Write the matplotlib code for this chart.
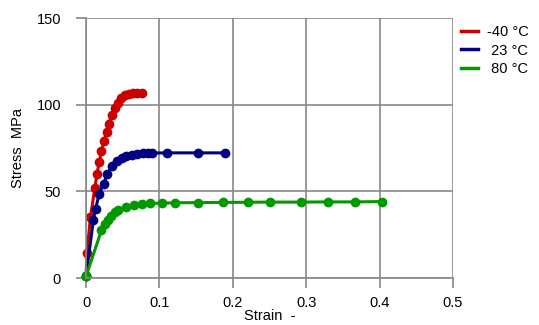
"""Stress-strain curves at three temperatures"""
import matplotlib
matplotlib.use("Agg")
import matplotlib.pyplot as plt

plt.rcParams['font.family'] = ['Liberation Sans', 'DejaVu Sans']

# data
strain_m40 = [0, 0.0013, 0.006, 0.012, 0.015, 0.018, 0.021, 0.0245, 0.028, 0.031,
              0.035, 0.039, 0.043, 0.048, 0.053, 0.059, 0.064, 0.070, 0.076]
stress_m40 = [1, 14.6, 35, 52, 60, 67, 73, 79, 84.5, 89,
              94, 98, 101.2, 103.7, 105.4, 106.2, 106.5, 106.6, 106.6]

strain_23 = [0, 0.010, 0.013, 0.018, 0.024, 0.029, 0.035, 0.042, 0.049, 0.055,
             0.062, 0.069, 0.077, 0.084, 0.090, 0.111, 0.152, 0.190]
stress_23 = [1, 33.5, 40, 48.5, 54.5, 60, 64.5, 67.5, 69.5, 70.6,
             71.2, 71.6, 71.9, 72.0, 72.1, 72.2, 72.2, 72.2]

strain_80 = [0, 0.021, 0.026, 0.030, 0.034, 0.039, 0.044, 0.055, 0.066, 0.076,
             0.087, 0.103, 0.121, 0.152, 0.186, 0.220, 0.251, 0.293, 0.330, 0.366, 0.403]
stress_80 = [1, 27.5, 31, 33.5, 36, 38, 39.2, 41, 42, 42.5,
             43, 43.2, 43.4, 43.5, 43.6, 43.7, 43.8, 43.8, 43.9, 43.9, 44.1]

labels = ["-40 °C", " 23 °C", " 80 °C"]
colors = ["#cc0000", "#000080", "#009900"]

xticks = [0, 0.1, 0.2, 0.3, 0.4, 0.5]
xticklabels = ["0", "0.1", "0.2", "0.3", "0.4", "0.5"]
yticks = [0, 50, 100, 150]

fig = plt.figure(figsize=(5.39, 3.25), dpi=100)
ax = fig.add_axes([0.1596, 0.1446, 0.6809, 0.8])

series = [(strain_m40, stress_m40), (strain_23, stress_23), (strain_80, stress_80)]
for (x, y), c, lab in zip(series, colors, labels):
    ax.plot(x, y, color=c, lw=2.2, marker='o', ms=6, label=lab, clip_on=False)

ax.set_xlim(0, 0.5)
ax.set_ylim(0, 150)
ax.set_xticks(xticks)
ax.set_xticklabels(xticklabels)
ax.set_yticks(yticks)

grid_c = "#888888"
ax.grid(True, color=grid_c, lw=1.2)
ax.set_axisbelow(True)
for s in ['top', 'right']:
    ax.spines[s].set_visible(False)
for s in ['left', 'bottom']:
    ax.spines[s].set_color(grid_c)
    ax.spines[s].set_linewidth(1.2)
ax.tick_params(axis='both', colors=grid_c, labelcolor='black', labelsize=10.5,
               length=7, width=1.2)
ax.tick_params(axis='y', pad=11)
ax.tick_params(axis='x', pad=6)

ax.set_xlabel("Strain  -", fontsize=10.5, labelpad=-1)
ax.set_ylabel("Stress  MPa", fontsize=10.5, labelpad=8)

leg = ax.legend(loc='upper left', bbox_to_anchor=(1.005, 0.995), frameon=False,
                fontsize=10.5, handlelength=1.2, handletextpad=0.6,
                labelspacing=0.3, borderaxespad=0)
for line in leg.get_lines():
    line.set_marker('')
    line.set_linewidth(2.5)

fig.savefig("out.png", dpi=100)
